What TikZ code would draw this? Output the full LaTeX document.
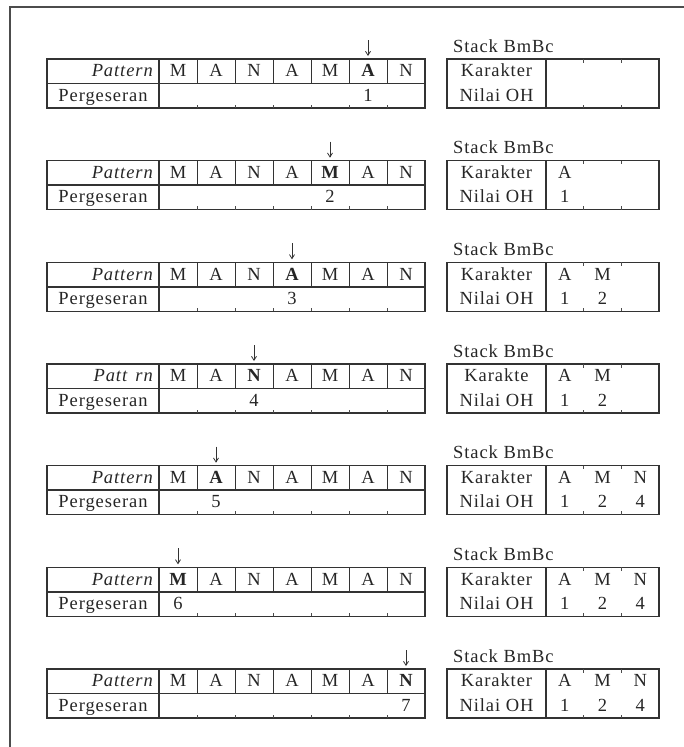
\documentclass[tikz,border=0pt]{standalone}
\usepackage{fontspec}
\setmainfont{Liberation Serif}[LetterSpace=5]
\usetikzlibrary{arrows.meta}
\newcommand{\tabfont}{\fontsize{18.5}{20}\selectfont}
\tikzset{
  tbl/.style={draw=black!80, line width=1.4pt},
  sep/.style={draw=black!80, line width=0.9pt},
  tick/.style={draw=black!70, line width=0.8pt},
  txt/.style={inner sep=0pt, text=black!85, font=\tabfont, text height=14pt, text depth=3pt},
  cell/.style={txt, minimum width=38pt},
  pointer/.style={draw=black!80, line width=0.8pt, -{Straight Barb[length=4pt,width=5pt]}},
}
\begin{document}
\begin{tikzpicture}[x=1pt,y=-1pt]
  \useasboundingbox (0,0) rectangle (684,747);
  % page frame
  \draw[draw=black!70, line width=1.3pt] (10,747) -- (10,7) -- (684,7);
  \foreach \i/\h/\n/\pat/\kar in {1/6/0/Pattern/Karakter, 2/5/1/Pattern/Karakter,
      3/4/2/Pattern/Karakter, 4/3/2/{Patt\phantom{e}rn}/Karakte,
      5/2/3/Pattern/Karakter, 6/1/3/Pattern/Karakter, 7/7/3/Pattern/Karakter}{
  \begin{scope}[shift={(0,{(\i-1)*101.67})}]
    % pattern table
    \draw[tbl] (47,59) rectangle (425,108);
    \draw[tbl] (47,83.5) -- (425,83.5);
    \draw[tbl] (159,59) -- (159,108);
    \foreach \j in {1,...,6}{
      \draw[sep] (159+38*\j,59) -- (159+38*\j,83.5);
      \draw[tick] (159+38*\j,108) -- (159+38*\j,104.5);
    }
    \node[txt, anchor=east, font=\tabfont\itshape] (pat\i) at (153,71.25) {\pat};
    \node[txt] (per\i) at (103,95.75) {Pergeseran};
    \foreach \ch [count=\j] in {M,A,N,A,M,A,N}
      \node[cell] (c\i-\j) at (140+38*\j,71.25) {\ifnum\j=\h\bfseries\fi\ch};
    \node[txt] (geser\i) at (140+38*\h,95.75) {\i};
    \coordinate (p\i) at (140+38*\h,40);
    \draw[pointer] (p\i) -- ([yshift=3pt]c\i-\h.center |- 0,59);
    % stack table
    \node[txt, anchor=base west] (st\i) at (453,52) {Stack BmBc};
    \draw[tbl] (447,59) rectangle (659,108);
    \draw[tbl] (546,59) -- (546,108);
    \foreach \k in {1,2}{
      \draw[tick] (546+37.67*\k,59) -- (546+37.67*\k,62.5);
      \draw[tick] (546+37.67*\k,108) -- (546+37.67*\k,104.5);
    }
    \node[txt] (kar\i) at (496.5,71.25) {\kar};
    \node[txt] (oh\i) at (496.5,95.75) {Nilai OH};
    \foreach \ch/\v [count=\k] in {A/1,M/2,N/4}{
      \ifnum\k>\n\relax\else
        \node[txt] (sk\i-\k) at (527.17+37.67*\k,71.25) {\ch};
        \node[txt] (sv\i-\k) at (527.17+37.67*\k,95.75) {\v};
      \fi
    }
  \end{scope}
  }
\end{tikzpicture}
\end{document}
